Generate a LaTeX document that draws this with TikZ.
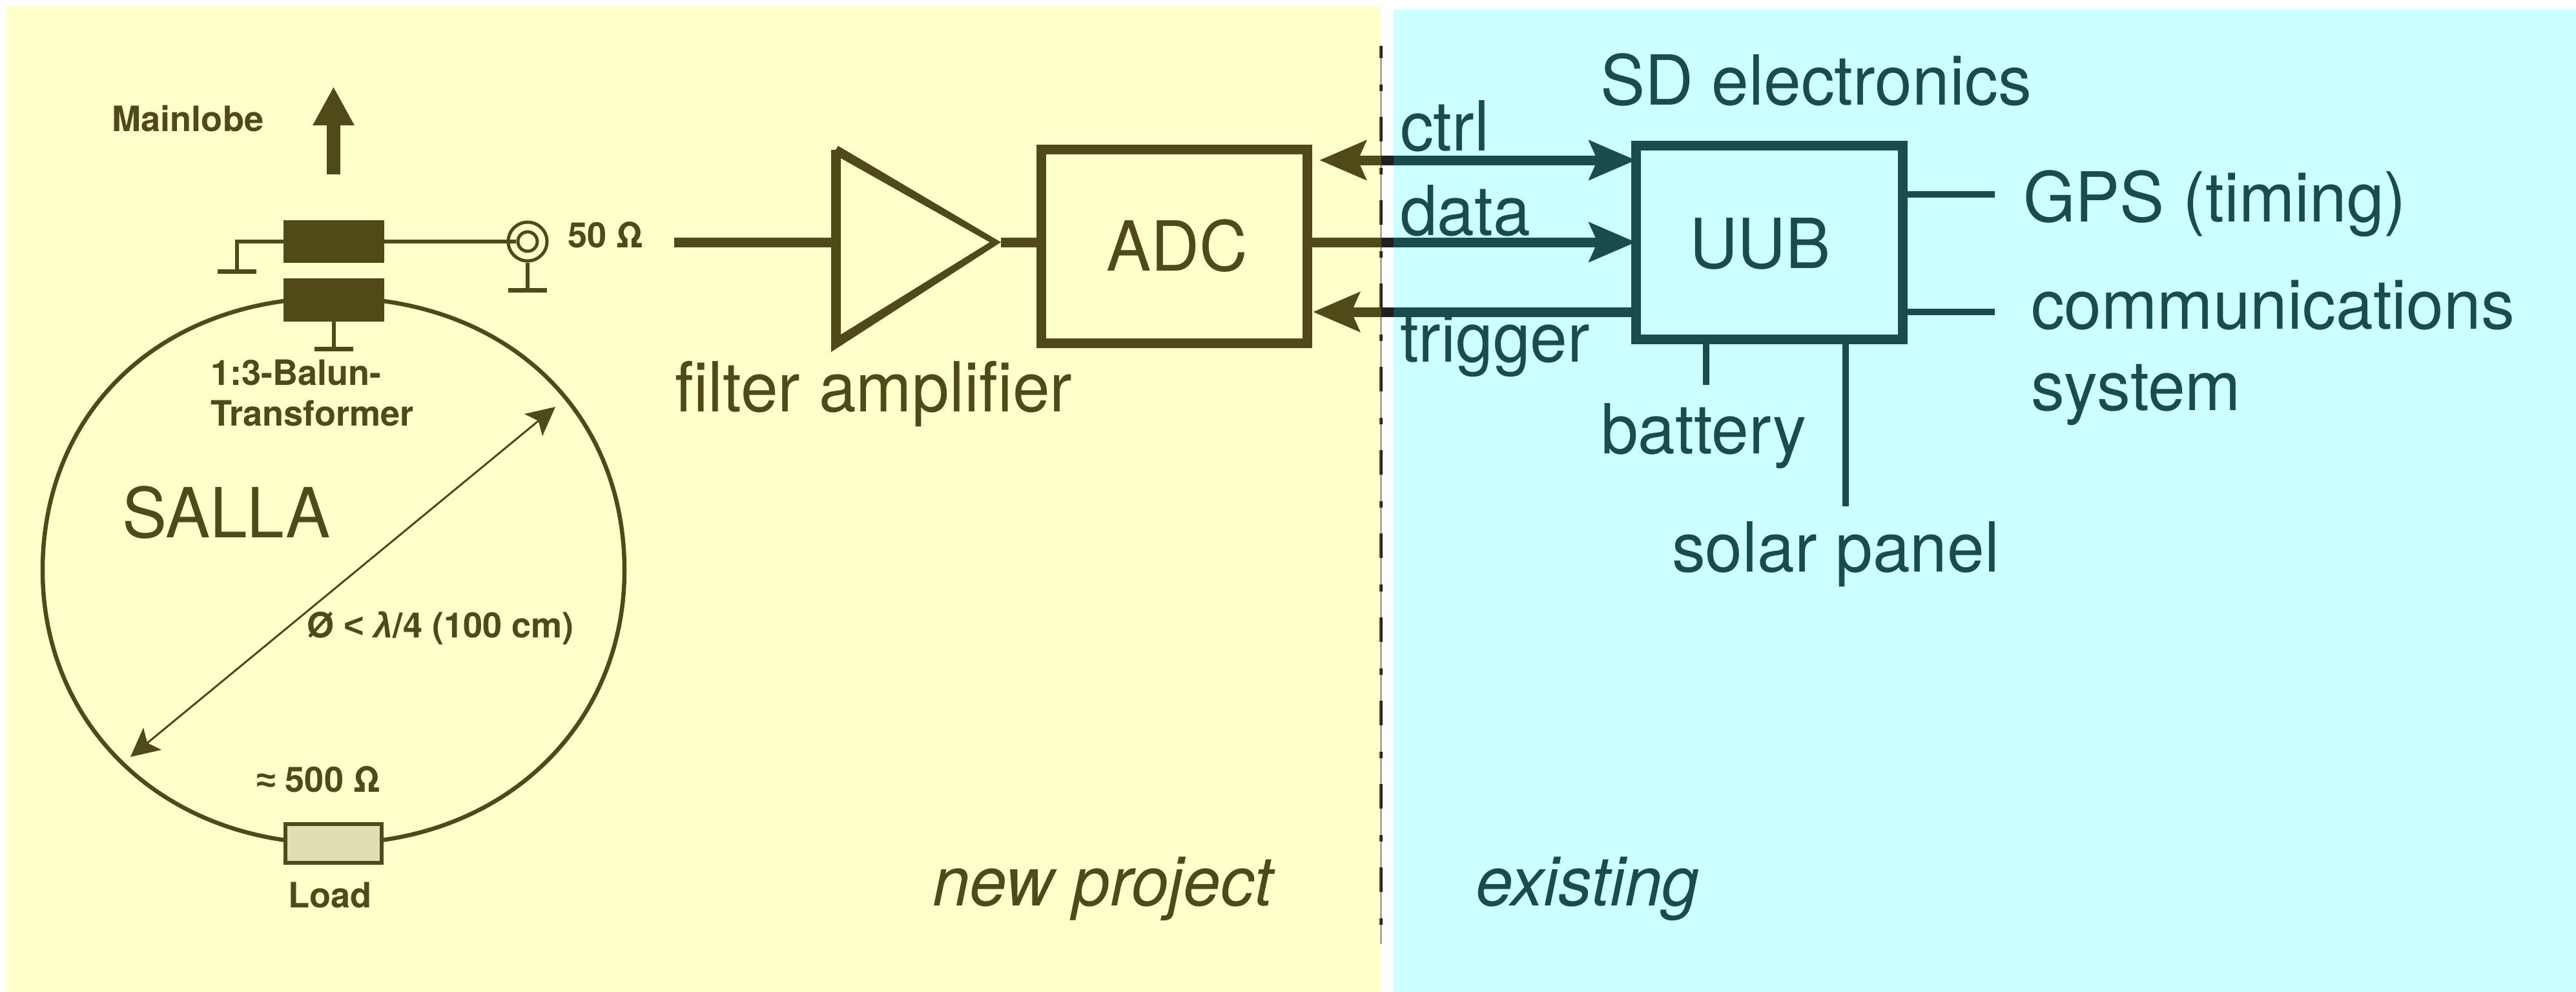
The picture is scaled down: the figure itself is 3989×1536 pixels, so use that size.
\documentclass[tikz,border=0pt]{standalone}
\usepackage{fontspec}
\usepackage{graphicx}
\usetikzlibrary{arrows.meta,calc}
\setmainfont{TeX Gyre Heros}
\newfontfamily\bigf[FakeStretch=0.97]{TeX Gyre Heros}
\newfontfamily\libf{Liberation Sans}
\definecolor{olv}{HTML}{4F4A18}
\definecolor{tl}{HTML}{1B4C4D}
\definecolor{drk}{HTML}{231F20}
\definecolor{ylw}{HTML}{FFFFCC}
\definecolor{cyn}{HTML}{CCFFFF}
\definecolor{loadfill}{HTML}{DFDFB3}
\tikzset{
  x=0.01cm,y=-0.01cm,
  bigtxt/.style={inner sep=0pt,outer sep=0pt,anchor=base west,font=\bigf\fontsize{30.4pt}{34.7pt}\selectfont},
  smalltxt/.style={inner sep=0pt,outer sep=0pt,anchor=base west,text=olv,font=\bfseries\fontsize{15.4pt}{18.2pt}\selectfont},
  olvbig/.style={bigtxt,text=olv},
  tlbig/.style={bigtxt,text=tl},
  box/.style={draw,line width=.15cm,inner sep=0pt,fill=none},
  olvline/.style={draw=olv,line width=.15cm},
  tlline/.style={draw=tl,line width=.15cm},
  stub/.style={draw=tl,line width=.1cm},
  thinw/.style={draw=olv,line width=.06cm},
  gbar/.style={draw=olv,line width=.07cm},
  bighead/.style={-{Stealth[length=.72cm,width=.6cm,inset=.125cm]}},
  balun/.style={fill=olv,draw=none,inner sep=0pt,outer sep=0pt,minimum width=1.56cm,minimum height=.66cm},
  dashp/.style={dash pattern=on .38cm off .41cm on .10cm off .40cm,dash phase=.19cm},
}
\begin{document}
\begin{tikzpicture}
\useasboundingbox (0,0) rectangle (3989,1536);
\fill[white] (0,0) rectangle (3989,1536);
\fill[ylw] (10,10) rectangle (2138,1536);
\fill[cyn] (2158,15) rectangle (3989,1536);

% divider
\coordinate (divT) at (2138.5,71);
\coordinate (divB) at (2138.5,1462);
\draw[drk,line width=.015cm] (divT) -- (divB);
\draw[olv,line width=.025cm,dashp] (2137,71) -- (2137,1462);
\draw[drk,line width=.03cm,dashp] (2139.5,71) -- (2139.5,1462);

% SALLA loop
\draw[draw=olv,line width=.065cm] (516.5,461)
  .. controls (250,461) and (66,636) .. (66,883)
  .. controls (66,1125) and (255,1306) .. (516.5,1306)
  .. controls (778,1306) and (967,1125) .. (967,883)
  .. controls (967,636) and (783,461) .. (516.5,461) -- cycle;
\node[balun] (balunA) at (517,374) {};
\node[balun] (balunB) at (517,464.5) {};
\node[draw=olv,line width=.06cm,fill=loadfill,inner sep=0pt,minimum width=1.49cm,minimum height=.60cm] (load) at (516.5,1306) {};

% main lobe arrow
\coordinate (lobeB) at (516.5,270);
\coordinate (lobeT) at (516.5,134);
\draw[draw=olv,line width=.2cm,-{Triangle[length=.60cm,width=.60cm]}] (lobeB) -- (lobeT);
\node[smalltxt] (mainlobe) at (173.5,203) {Mainlobe};

% coax
\node[circle,draw=olv,line width=.05cm,inner sep=0pt,minimum size=.60cm] (coaxO) at (817,374) {};
\node[circle,draw=olv,line width=.05cm,inner sep=0pt,minimum size=.30cm] (coaxI) at (817,374) {};
\draw[thinw] (balunA.east) -- (coaxI.west);
\coordinate (gA) at (367,420);
\draw[thinw] (balunA.west) -| (gA);
\draw[gbar] ($(gA)+(-30,0)$) -- ($(gA)+(30,0)$);
\coordinate (gB) at (817,449);
\draw[thinw] (coaxO.south) -- (gB);
\draw[gbar] ($(gB)+(-30,0)$) -- ($(gB)+(30,0)$);
\coordinate (gC) at (516.5,540);
\draw[thinw] (balunB.south -| gC) -- (gC);
\draw[gbar] ($(gC)+(-30,0)$) -- ($(gC)+(30,0)$);

\node[smalltxt] (r50) at (879,383) {50 Ω};
\node[smalltxt] (balunL1) at (326,596) {1:3-Balun-};
\node[smalltxt] (balunL2) at (326,659) {Transformer};
\node[olvbig] (salla) at (189,832) {SALLA};
\node[smalltxt] (diam) at (475,987) {Ø {\libf <} {\libf\itshape λ}/4 (100 cm)};
\node[smalltxt] (r500) at (397,1226) {{\libf ≈} 500 Ω};
\node[smalltxt] (loadL) at (446,1405) {Load};

% diameter arrow
\coordinate (dA) at (202,1172);
\coordinate (dB) at (860,630);
\draw[draw=olv,line width=.03cm,{Stealth[length=.44cm,width=.44cm,inset=.1cm]}-{Stealth[length=.44cm,width=.44cm,inset=.1cm]}] (dA) -- (dB);

% filter amplifier
\coordinate (ampT) at (1298,226);
\coordinate (ampC) at (1287,232);
\coordinate (ampB) at (1287,545);
\coordinate (ampA) at (1550,375);
\fill[olv,even odd rule] (ampC) -- (1294,232) -- (ampT) -- (ampA) -- (ampB) -- cycle
   (1302,245) -- (1532.6,375) -- (1302,518) -- cycle;
\coordinate (inL) at (1044,375);
\coordinate (ampIn) at (1287,375);
\draw[olvline] (inL) -- (ampIn);
\node[olvbig] (filtL) at (1045,637) {filter amplifier};

% ADC
\node[box,draw=olv,minimum width=4.12cm,minimum height=3.0cm,font=\bigf\fontsize{30.4pt}{34pt}\selectfont,text=olv] (adc) at (1818.5,381.5) {\hspace*{.08cm}\raisebox{.03cm}{ADC}};
\draw[olvline] (ampA) -- (adc.west |- ampA);

% UUB
\node[box,draw=tl,minimum width=4.12cm,minimum height=2.995cm] (uub) at (2740,375.25) {};
\node[tlbig] (uubL) at (2616,415.5) {UUB};

% cross-border connectors
\coordinate (m1a) at (2138.5,248); \coordinate (m1b) at (2158,248);
\coordinate (m2a) at (2138.5,375); \coordinate (m2b) at (2158,375);
\coordinate (m3a) at (2138.5,483); \coordinate (m3b) at (2158,483);
\coordinate (t1) at (2043,248);
\coordinate (t3) at (2033,483);
\draw[olvline,bighead] (m1a) -- (t1);
\draw[olvline] (m2a) -- (adc.east |- m2a);
\draw[olvline,bighead] (m3a) -- (t3);
\draw[tlline,bighead,shorten >=-.07cm] (m1b) -- (uub.west |- m1b);
\draw[tlline,bighead,shorten >=-.07cm] (m2b) -- (uub.west |- m2b);
\draw[tlline] (uub.west |- m3b) -- (m3b);
\draw[drk,line width=.15cm] (m1a) -- (m1b);
\draw[drk,line width=.15cm] (m2a) -- (m2b);
\draw[drk,line width=.15cm] (m3a) -- (m3b);

% UUB stubs
\coordinate (sGPS) at (3089,301);
\coordinate (sCom) at (3089,483);
\coordinate (sBat) at (2641.5,596);
\coordinate (sSol) at (2858,784);
\draw[stub] (uub.east |- sGPS) -- (sGPS);
\draw[stub] (uub.east |- sCom) -- (sCom);
\draw[stub] (uub.south -| sBat) -- (sBat);
\draw[stub] (uub.south -| sSol) -- (sSol);

% labels right
\node[tlbig] (sd) at (2478,162) {SD electronics};
\node[tlbig] (ctrl) at (2168,233) {ctrl};
\node[tlbig] (data) at (2168,364.5) {data};
\node[tlbig] (trig) at (2168,560) {trigger};
\node[tlbig] (gps) at (3133,343) {GPS (timing)};
\node[tlbig] (com1) at (3145,509) {communications};
\node[tlbig] (com2) at (3145,635) {system};
\node[tlbig] (bat) at (2479,702) {battery};
\node[tlbig] (sol) at (2589,885) {solar panel};
\node[olvbig,font=\bigf\itshape\fontsize{30.4pt}{34.7pt}\selectfont] (newp) at (1444,1402) {new project};
\node[tlbig,font=\bigf\itshape\fontsize{30.4pt}{34.7pt}\selectfont] (exist) at (2285,1402) {existing};
\end{tikzpicture}
\end{document}
